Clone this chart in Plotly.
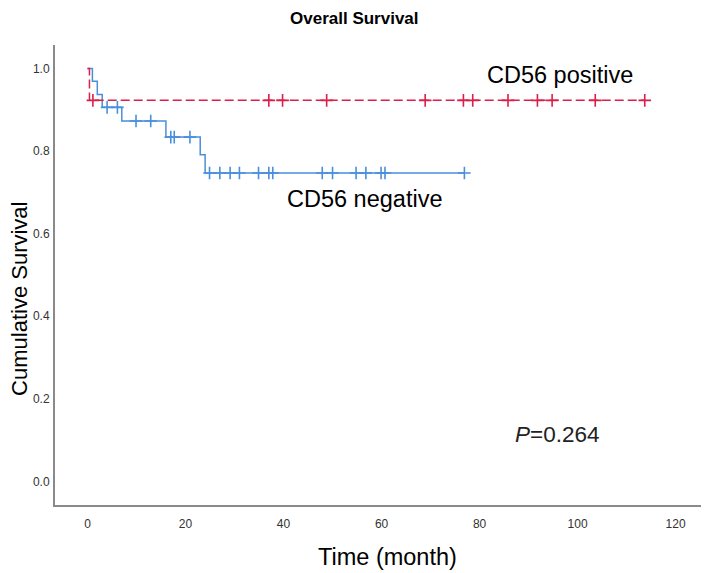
"""
Kaplan-Meier overall survival: CD56 positive vs CD56 negative
"""
import numpy as np
import plotly.graph_objects as go

# CD56 negative (blue): event times (month) and survival after each event
neg_event_times = [1.0, 2.0, 3.0, 7.0, 16.0, 23.0, 24.0]
neg_surv = [0.969, 0.937, 0.906, 0.873, 0.834, 0.791, 0.747]
neg_censor_times = [4.0, 6.1, 9.9, 12.9, 17.0, 17.7, 20.9, 24.9, 27.0, 29.1, 31.0,
                    34.9, 37.0, 37.8, 47.9, 50.0, 54.8, 56.8, 59.9, 60.7, 76.9]

# CD56 positive (red)
pos_event_times = [0.4]
pos_surv = [0.923]
pos_censor_times = [1.1, 37.0, 39.8, 48.8, 68.9, 76.7, 78.6, 85.8, 91.8, 94.8,
                    103.6, 113.7]

x_ticks = [0, 20, 40, 60, 80, 100, 120]
y_ticks = [0.0, 0.2, 0.4, 0.6, 0.8, 1.0]

BLUE = '#4a8fdc'
RED = '#dc1e4a'
FONT = 'Arial, Liberation Sans, sans-serif'


def km_steps(event_times, surv, censor_times):
    """step line from time 0 to the last observation, plus censor marks"""
    end = max(max(event_times), max(censor_times))
    xs = [0] + list(event_times) + [end]
    ys = [1.0] + list(surv) + [surv[-1]]
    # survival at each censor time
    idx = np.searchsorted(event_times, censor_times, side='right')
    levels = np.array([1.0] + list(surv))
    cy = levels[idx]
    return xs, ys, list(censor_times), list(cy)


fig = go.Figure()

for name, ev, sv, cen, color, dash in [
    ('CD56 negative', neg_event_times, neg_surv, neg_censor_times, BLUE, 'solid'),
    ('CD56 positive', pos_event_times, pos_surv, pos_censor_times, RED, '9px,4px'),
]:
    xs, ys, cx, cy = km_steps(ev, sv, cen)
    fig.add_trace(go.Scatter(
        x=xs, y=ys, mode='lines', line_shape='hv',
        line=dict(color=color, width=1.5, dash=dash),
        name=name, showlegend=False,
    ))
    fig.add_trace(go.Scatter(
        x=cx, y=cy, mode='markers',
        marker=dict(symbol='cross-thin', size=9,
                    line=dict(color=color, width=1.6)),
        name=name + ' censored', showlegend=False,
    ))

axis_common = dict(
    showgrid=False, zeroline=False, showline=True,
    linecolor='#8a8a8a', linewidth=2, mirror=False,
    ticks='', tickfont=dict(family=FONT, size=12, color='#333333'),
)

# page body has an 8px margin, so the figure is a little smaller and shifted
fig.update_layout(
    width=701, height=565,
    margin=dict(l=47, r=2, t=37, b=68),
    plot_bgcolor='white', paper_bgcolor='white',
    font=dict(family=FONT, color='black'),
    title=dict(text='<b>Overall Survival</b>', x=0.494, xref='container',
               y=1 - 10 / 565, yref='container', yanchor='middle',
               xanchor='center', font=dict(size=17, color='black')),
    xaxis=dict(range=[-6.63, 126.4], tickvals=x_ticks,
               ticktext=[str(t) for t in x_ticks], ticklabelstandoff=7,
               **axis_common),
    yaxis=dict(range=[-0.057, 1.057], tickvals=y_ticks,
               ticktext=[f'{t:.1f}' for t in y_ticks], ticklabelstandoff=1,
               **axis_common),
    showlegend=False,
)

fig.add_annotation(text='Cumulative Survival', textangle=-90,
                   xref='paper', yref='paper', x=-0.0545, y=0.449,
                   xanchor='center', yanchor='middle', showarrow=False,
                   font=dict(size=22, color='black'))
fig.add_annotation(text='Time (month)', xref='paper', yref='paper',
                   x=0.51, y=-0.112, xanchor='center', yanchor='middle',
                   showarrow=False, font=dict(size=23.5, color='black'))
fig.add_annotation(text='CD56 positive', x=96.4, y=0.985,
                   xanchor='center', yanchor='middle', showarrow=False,
                   font=dict(size=23.5, color='black'))
fig.add_annotation(text='CD56 negative', x=56.5, y=0.683,
                   xanchor='center', yanchor='middle', showarrow=False,
                   font=dict(size=23.5, color='black'))
fig.add_annotation(text='<i>P</i>=0.264', x=95.8, y=0.114,
                   xanchor='center', yanchor='middle', showarrow=False,
                   font=dict(size=22.5, color='#222222'))

fig.write_html('out.html')
